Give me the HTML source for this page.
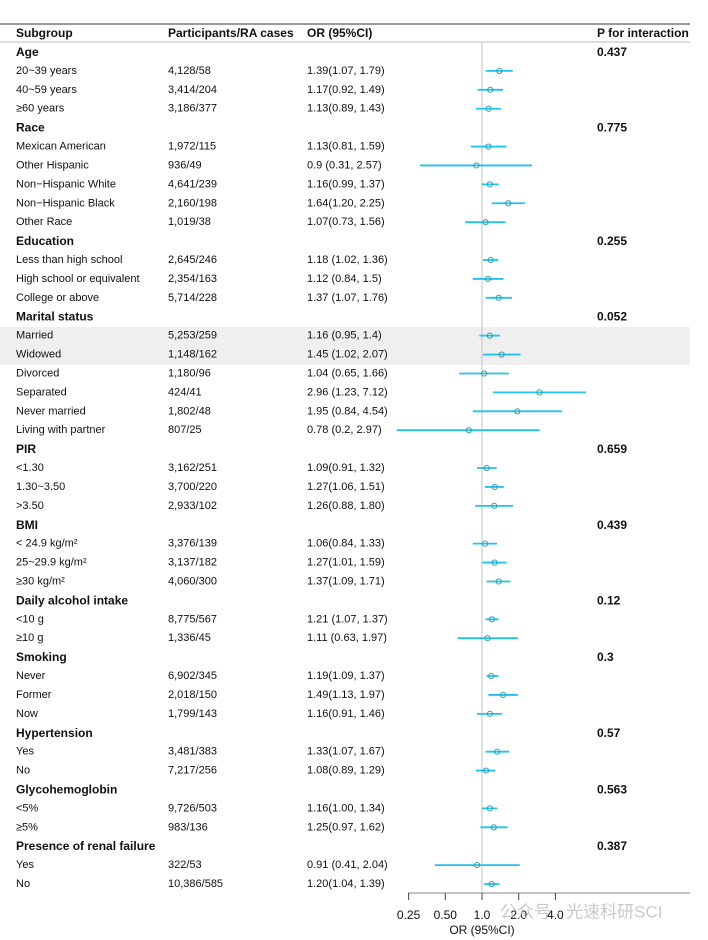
<!DOCTYPE html>
<html><head><meta charset="utf-8"><style>
body{margin:0;background:#fff;}
svg{display:block;font-family:"Liberation Sans","Noto Sans CJK SC",sans-serif;}
</style></head><body>
<svg id="c" width="708" height="940"></svg>
<script>
const labels=["Age","20~39 years","40~59 years","≥60 years","Race","Mexican American","Other Hispanic","Non−Hispanic White","Non−Hispanic Black","Other Race","Education","Less than high school","High school or equivalent","College or above","Marital status","Married","Widowed","Divorced","Separated","Never married","Living with partner","PIR","<1.30","1.30~3.50",">3.50","BMI","< 24.9 kg/m²","25~29.9 kg/m²","≥30  kg/m²","Daily alcohol intake","<10 g","≥10 g","Smoking","Never","Former","Now","Hypertension","Yes","No","Glycohemoglobin","<5%","≥5%","Presence of renal failure","Yes","No"];
const participants=["","4,128/58","3,414/204","3,186/377","","1,972/115","936/49","4,641/239","2,160/198","1,019/38","","2,645/246","2,354/163","5,714/228","","5,253/259","1,148/162","1,180/96","424/41","1,802/48","807/25","","3,162/251","3,700/220","2,933/102","","3,376/139","3,137/182","4,060/300","","8,775/567","1,336/45","","6,902/345","2,018/150","1,799/143","","3,481/383","7,217/256","","9,726/503","983/136","","322/53","10,386/585"];
const orText=["","1.39(1.07, 1.79)","1.17(0.92, 1.49)","1.13(0.89, 1.43)","","1.13(0.81, 1.59)","0.9 (0.31, 2.57)","1.16(0.99, 1.37)","1.64(1.20, 2.25)","1.07(0.73, 1.56)","","1.18 (1.02, 1.36)","1.12 (0.84, 1.5)","1.37 (1.07, 1.76)","","1.16 (0.95, 1.4)","1.45 (1.02, 2.07)","1.04 (0.65, 1.66)","2.96 (1.23, 7.12)","1.95 (0.84, 4.54)","0.78 (0.2, 2.97)","","1.09(0.91, 1.32)","1.27(1.06, 1.51)","1.26(0.88, 1.80)","","1.06(0.84, 1.33)","1.27(1.01, 1.59)","1.37(1.09, 1.71)","","1.21 (1.07, 1.37)","1.11 (0.63, 1.97)","","1.19(1.09, 1.37)","1.49(1.13, 1.97)","1.16(0.91, 1.46)","","1.33(1.07, 1.67)","1.08(0.89, 1.29)","","1.16(1.00, 1.34)","1.25(0.97, 1.62)","","0.91 (0.41, 2.04)","1.20(1.04, 1.39)"];
const est=[null,1.39,1.17,1.13,null,1.13,0.9,1.16,1.64,1.07,null,1.18,1.12,1.37,null,1.16,1.45,1.04,2.96,1.95,0.78,null,1.09,1.27,1.26,null,1.06,1.27,1.37,null,1.21,1.11,null,1.19,1.49,1.16,null,1.33,1.08,null,1.16,1.25,null,0.91,1.20];
const lower=[null,1.07,0.92,0.89,null,0.81,0.31,0.99,1.20,0.73,null,1.02,0.84,1.07,null,0.95,1.02,0.65,1.23,0.84,0.2,null,0.91,1.06,0.88,null,0.84,1.01,1.09,null,1.07,0.63,null,1.09,1.13,0.91,null,1.07,0.89,null,1.00,0.97,null,0.41,1.04];
const upper=[null,1.79,1.49,1.43,null,1.59,2.57,1.37,2.25,1.56,null,1.36,1.5,1.76,null,1.4,2.07,1.66,7.12,4.54,2.97,null,1.32,1.51,1.80,null,1.33,1.59,1.71,null,1.37,1.97,null,1.37,1.97,1.46,null,1.67,1.29,null,1.34,1.62,null,2.04,1.39];
const pvals={0:"0.437",4:"0.775",10:"0.255",14:"0.052",21:"0.659",25:"0.439",29:"0.12",32:"0.3",36:"0.57",39:"0.563",42:"0.387"};
const ticks=[0.25,0.5,1,2,4];
const tickLabels=["0.25","0.50","1.0","2.0","4.0"];

const NS="http://www.w3.org/2000/svg",svgEl=document.getElementById('c');
const X=v=>482+36.7*Math.log2(v);
const Y=i=>52+i*18.91;
function mk(t,a){const e=document.createElementNS(NS,t);for(const k in a)e.setAttribute(k,a[k]);svgEl.appendChild(e);return e;}
function tx(s,x,y,o){const e=mk('text',Object.assign({x:x,y:y,'font-size':11,fill:'#111','dominant-baseline':'central'},o||{}));e.textContent=s;return e;}

const band=mk('rect',{x:0,y:327,width:690,height:38,fill:'#efefef'});


const topRule=mk('line',{x1:0,x2:690,y1:24,y2:24,stroke:'#999','stroke-width':2});


const headerRule=mk('line',{x1:0,x2:690,y1:42,y2:42,stroke:'#bbb','stroke-width':1});


const hdr=[["Subgroup",16],["Participants/RA cases",168],["OR (95%CI)",307],["P for interaction",597]];
hdr.forEach(h=>{const t=tx(h[0],h[1],33,{'font-weight':'bold','font-size':12});

});
const refLine=mk('line',{x1:482,x2:482,y1:43,y2:893,stroke:'#ccc','stroke-width':1.2});



labels.forEach((l,i)=>{
  const y=Y(i),head=est[i]===null;
  const t=tx(l,16,y,head?{'font-weight':'bold','font-size':12}:{});
  
  
  if(head){if(pvals[i]){const p=tx(pvals[i],597,y,{'font-weight':'bold','font-size':12});
    
    }return;}
  const a=tx(participants[i],168,y);
  
  
  const b=tx(orText[i],307,y);
  
  
  const ci=mk('line',{x1:X(lower[i]),x2:X(upper[i]),y1:y,y2:y,stroke:'#1ec3f0','stroke-width':1.8});
  
  
  const pt=mk('circle',{cx:X(est[i]),cy:y,r:2.6,fill:'none',stroke:'#3a9ea8','stroke-width':1});
  
  
});

const axisLine=mk('line',{x1:408,x2:690,y1:893,y2:893,stroke:'#888','stroke-width':1});


ticks.forEach((v,k)=>{
  const tk=mk('line',{x1:X(v),x2:X(v),y1:893,y2:900,stroke:'#444','stroke-width':1});
  
  
  const tl=tx(tickLabels[k],X(v),915,{'text-anchor':'middle','font-size':12});
  
  
});
const axisTitle=tx("OR (95%CI)",482,930,{'text-anchor':'middle','font-size':12});


const wm=tx("公众号 · 光速科研SCI",500,912,{'font-size':17,fill:'#bbb','fill-opacity':0.8});


</script>
</body></html>
